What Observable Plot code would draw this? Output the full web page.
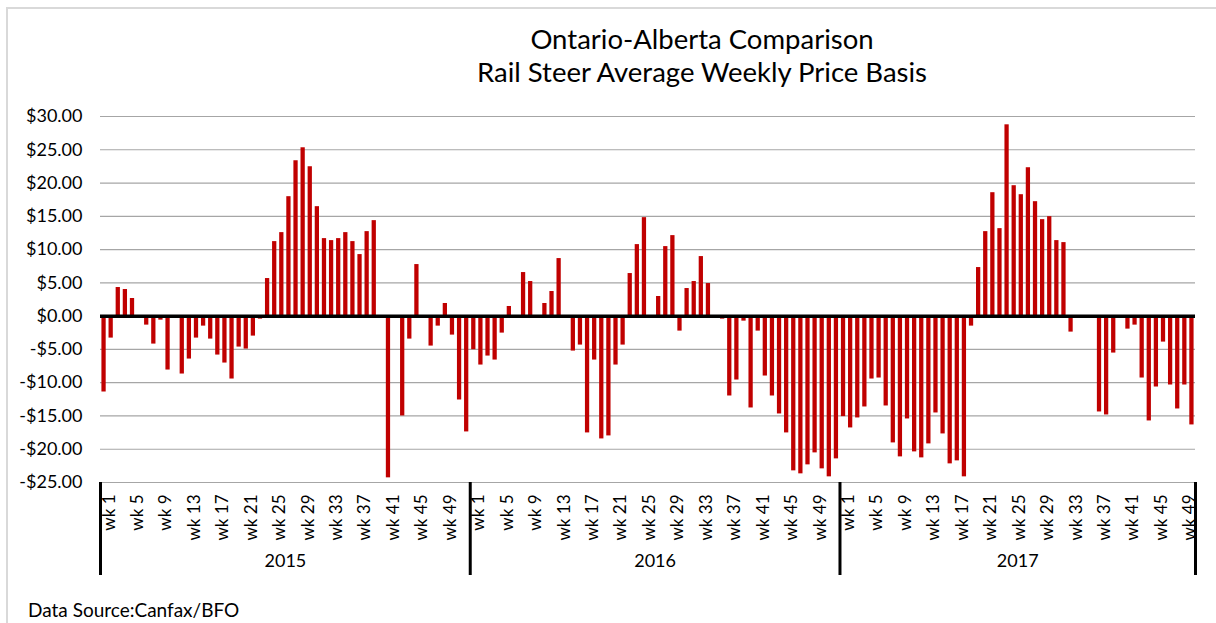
<!DOCTYPE html>
<html>
<head>
<meta charset="utf-8">
<script src="https://cdn.jsdelivr.net/npm/d3@7"></script>
<script src="https://cdn.jsdelivr.net/npm/@observablehq/plot@0.6"></script>
<style>
  html, body { margin: 0; padding: 0; background: #fff; }
  #wrap { position: relative; width: 1216px; height: 623px; overflow: hidden; font-family: Lato, "Open Sans", sans-serif; }
  #frame { position: absolute; left: 6px; top: 7px; width: 1300px; height: 700px; border-left: 2px solid #d9d9d9; border-top: 2px solid #d9d9d9; }
  #title { position: absolute; left: 302px; top: 22px; width: 800px; text-align: center; font-size: 27.5px; line-height: 33px; color: #000; }
  #chart { position: absolute; left: 0; top: 100px; }
  #caption { position: absolute; left: 28px; top: 598px; font-size: 19px; color: #000; }
</style>
</head>
<body>
<div id="wrap">
  <div id="frame"></div>
  <div id="title">Ontario-Alberta Comparison<br>Rail Steer Average Weekly Price Basis</div>
  <div id="chart"></div>
  <div id="caption">Data Source:Canfax/BFO</div>
</div>
<script>
const years = ["2015", "2016", "2017"];
const weeksPerYear = [52, 52, 50];
const tickWeeks = [1, 5, 9, 13, 17, 21, 25, 29, 33, 37, 41, 45, 49];
const yTicks = [-25, -20, -15, -10, -5, 0, 5, 10, 15, 20, 25, 30];

const basis2015 = [
  -11.4, -3.3, 4.3, 4.0, 2.65, null, -1.35, -4.2, -0.6, -8.1,
  null, -8.7, -6.45, -3.3, -1.5, -3.45, -5.85, -7.05, -9.45, -4.65,
  -4.95, -3.0, -0.45, 5.65, 11.2, 12.55, 17.95, 23.35, 25.3, 22.45,
  16.45, 11.65, 11.35, 11.65, 12.55, 11.2, 9.25, 12.7, 14.35, null,
  -24.3, null, -15.0, -3.45, 7.75, null, -4.5, -1.5, 1.9, -2.85,
  -12.6, -17.4
];
const basis2016 = [
  -5.05, -7.35, -6.0, -6.6, -2.55, 1.45, null, 6.55, 5.2, null,
  1.9, 3.7, 8.65, null, -5.25, -4.35, -17.55, -6.6, -18.45, -18.0,
  -7.35, -4.35, 6.4, 10.75, 14.8, null, 2.95, 10.45, 12.1, -2.25,
  4.15, 5.2, 8.95, 4.9, null, -0.45, -12.0, -9.6, -0.75, -13.8,
  -2.25, -9.0, -12.0, -14.7, -17.55, -23.25, -23.7, -22.35, -20.55, -22.95,
  -24.15, -21.45
];
const basis2017 = [
  -15.1, -16.8, -15.3, -13.65, -9.45, -9.3, -13.5, -19.05, -21.15, -15.45,
  -20.4, -21.3, -19.2, -14.55, -17.7, -22.2, -21.75, -24.15, -1.5, 7.3,
  12.7, 18.55, 13.15, 28.75, 19.6, 18.25, 22.3, 17.2, 14.5, 14.95,
  11.35, 11.05, -2.4, null, null, null, -14.4, -14.85, -5.55, null,
  -1.95, -1.35, -9.3, -15.75, -10.65, -3.9, -10.35, -13.95, -10.35, -16.35
];
const seriesByYear = [basis2015, basis2016, basis2017];

// Build table
const rows = [];
years.forEach((yr, i) => {
  for (let w = 1; w <= weeksPerYear[i]; w++) {
    rows.push({key: `${yr}-${w}`, year: yr, week: w, value: seriesByYear[i][w - 1]});
  }
});
const keys = rows.map(d => d.key);
const tickKeys = rows.filter(d => tickWeeks.includes(d.week)).map(d => d.key);
const startKeys = years.map(yr => `${yr}-1`);
const endKey = keys[keys.length - 1];
const yearLabels = years.map((yr, i) => ({year: yr, key: `${yr}-${weeksPerYear[i] / 2 + 1}`}));

const width = 1216, height = 500;
const marginLeft = 100, marginRight = 21, marginTop = 16, marginBottom = 118;
const step = (width - marginLeft - marginRight) / keys.length;
const plotH = height - marginTop - marginBottom;

const fmt = v => (v < 0 ? "-" : "") + "$" + Math.abs(v).toFixed(2);

const chart = Plot.plot({
  width, height, marginLeft, marginRight, marginTop, marginBottom,
  style: {fontFamily: "Lato, 'Open Sans', sans-serif", fontSize: "17px", color: "#000", background: "transparent"},
  x: {type: "band", domain: keys, paddingInner: 0.4, paddingOuter: 0.2, round: false, label: null},
  y: {domain: [-25, 30], label: null},
  marks: [
    Plot.gridY(yTicks, {stroke: "#a6a6a6", strokeOpacity: 1, strokeWidth: 1.2}),
    Plot.axisY(yTicks, {tickSize: 0, tickPadding: 18, tickFormat: fmt, fontSize: 18, label: null}),
    Plot.barY(rows.filter(d => d.value != null), {x: "key", y: "value", fill: "#c00000"}),
    Plot.ruleY([0], {stroke: "#000", strokeWidth: 3.5}),
    Plot.axisX(tickKeys, {tickSize: 0, tickRotate: -90, tickPadding: 12, dx: 5, fontSize: 17, label: null,
      tickFormat: k => "wk " + k.split("-")[1]}),
    Plot.ruleX(startKeys, {dx: -step / 2, insetTop: plotH, insetBottom: -93, stroke: "#000", strokeWidth: 3}),
    Plot.ruleX([endKey], {dx: step / 2, insetTop: plotH, insetBottom: -93, stroke: "#000", strokeWidth: 3}),
    Plot.text(yearLabels, {x: "key", text: "year", dx: -step / 2, frameAnchor: "bottom", dy: 84, fontSize: 18})
  ]
});
document.getElementById("chart").appendChild(chart);
</script>
</body>
</html>
